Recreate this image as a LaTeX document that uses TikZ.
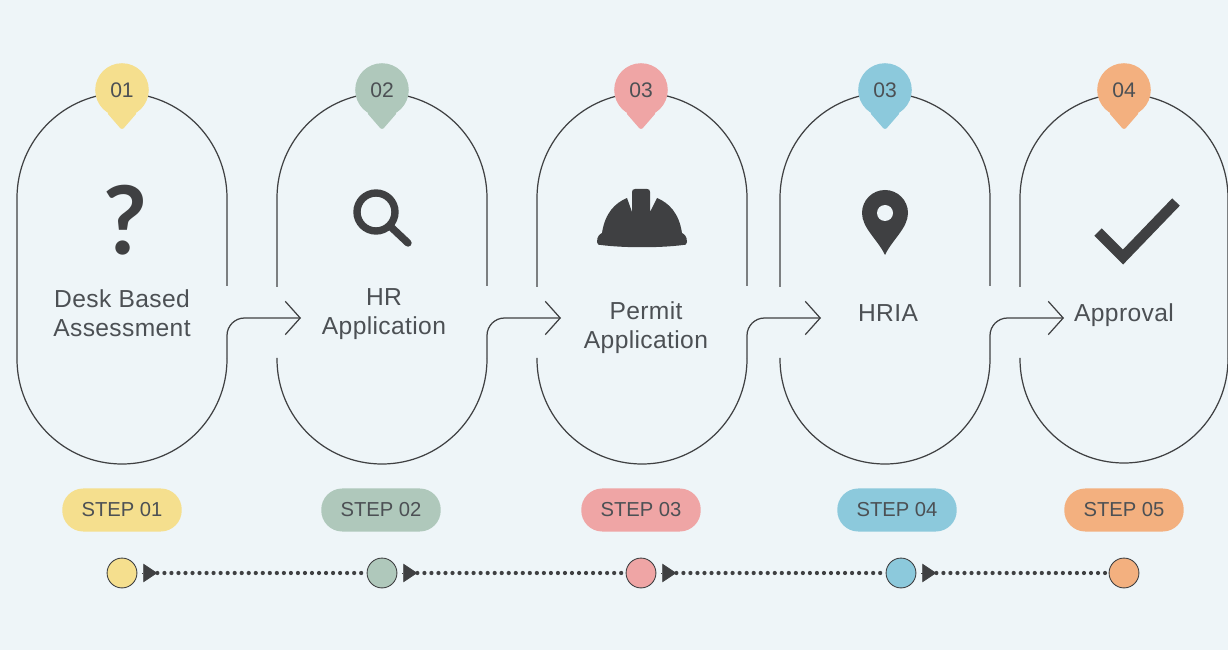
\documentclass[tikz,border=0pt]{standalone}
\usepackage{fontspec}
\setmainfont{Liberation Sans}
\newfontfamily\askfont{Lato}
\usetikzlibrary{calc}
\usetikzlibrary{arrows.meta}
\definecolor{bgpage}{HTML}{EEF5F8}
\definecolor{ink}{HTML}{3F4042}
\definecolor{inktext}{HTML}{4C5054}
\definecolor{stepyellow}{HTML}{F5DF8E}
\definecolor{stepgreen}{HTML}{AFC8BB}
\definecolor{stepred}{HTML}{EFA5A5}
\definecolor{stepblue}{HTML}{8CC9DC}
\definecolor{steporange}{HTML}{F3B07F}
\tikzset{
  outline/.style={ink,line width=0.7pt},
  link/.style={ink,line width=0.7pt,rounded corners=10pt,-{Straight Barb[length=8.5pt,width=19pt]}},
  pin/.style={circle,minimum size=30.5pt,inner sep=0pt,font=\fontsize{12}{15}\selectfont,text=inktext},
  pintip/.style={rounded corners=1.5pt},
  label/.style={align=center,font=\fontsize{14}{16.5}\selectfont\addfontfeature{LetterSpace=1.5},text=inktext},
  badge/.style={rounded corners=12pt,minimum width=68pt,minimum height=24.5pt,inner sep=0pt,font=\fontsize{11.5}{15}\selectfont,text=inktext},
  dot/.style={circle,draw=ink,line width=0.5pt,minimum size=17pt,inner sep=0pt},
  dotline/.style={ink,line width=2.4pt,line cap=round,dash pattern=on 0pt off 4pt},
  head/.style={ink,-{Triangle[length=8pt,width=10.5pt]}},
}

\begin{document}
\begin{tikzpicture} [x=0.02cm,y=0.02cm]

\useasboundingbox (0,0) rectangle (1228,650);
\fill[bgpage] (0,0) rectangle (1228,650);

% capsules
\draw[outline] (227,364) -- (227,452) arc(0:180:105) -- (17,291) arc(180:360:105);
\draw[outline] (487,364) -- (487,452) arc(0:180:105) -- (277,363);
\draw[outline] (277,292) -- (277,291) arc(180:360:105);
\draw[outline] (747,364) -- (747,452) arc(0:180:105) -- (537,363);
\draw[outline] (537,292) -- (537,291) arc(180:360:105);
\draw[outline] (990,364) -- (990,452) arc(0:180:105) -- (780,363);
\draw[outline] (780,292) -- (780,291) arc(180:360:105);
\draw[outline] (1228,291) -- (1228,452) arc(0:180:104) -- (1020,363);
\draw[outline] (1020,292) -- (1020,291) arc(180:360:104);

% links
\coordinate (s1) at (227,291);
\coordinate (k1) at (227,332);
\coordinate (e1) at (301,332);
\coordinate (s2) at (487,291);
\coordinate (k2) at (487,332);
\coordinate (e2) at (561,332);
\coordinate (s3) at (747,291);
\coordinate (k3) at (747,332);
\coordinate (e3) at (821,332);
\coordinate (s4) at (990,291);
\coordinate (k4) at (990,332);
\coordinate (e4) at (1064,332);
\draw[link] (s1)--(k1)--(e1);
\draw[link] (s2)--(k2)--(e2);
\draw[link] (s3)--(k3)--(e3);
\draw[link] (s4)--(k4)--(e4);

% pins
\node[pin,fill=stepyellow] (pin1) at (122,560) {01};
\node[pin,fill=stepgreen] (pin2) at (382,560) {02};
\node[pin,fill=stepred] (pin3) at (641,560) {03};
\node[pin,fill=stepblue] (pin4) at (885,560) {03};
\node[pin,fill=steporange] (pin5) at (1124,560) {04};
\fill[stepyellow,pintip] (pin1.-55) -- ($(pin1.south)+(0,-13)$) -- (pin1.-125) -- cycle;
\fill[stepgreen,pintip] (pin2.-55) -- ($(pin2.south)+(0,-13)$) -- (pin2.-125) -- cycle;
\fill[stepred,pintip] (pin3.-55) -- ($(pin3.south)+(0,-13)$) -- (pin3.-125) -- cycle;
\fill[stepblue,pintip] (pin4.-55) -- ($(pin4.south)+(0,-13)$) -- (pin4.-125) -- cycle;
\fill[steporange,pintip] (pin5.-55) -- ($(pin5.south)+(0,-13)$) -- (pin5.-125) -- cycle;

% icons
\node[ink,font=\fontsize{54}{54}\selectfont\askfont\bfseries] (ask) at (125,430) {?};
\draw[ink,line width=4.2pt] (376,438) circle(19);
\draw[ink,line width=4.2pt,line cap=round] (391,423) -- (408,407);
\fill[ink] (597,408) .. controls (597,414) and (600,416) .. (602,417)
  .. controls (605,437) and (615,447) .. (627,452) -- (632,438) -- (632,458)
  .. controls (632,460) and (633,461) .. (635,461) -- (647,461)
  .. controls (649,461) and (650,460) .. (650,458) -- (650,438) -- (657,452)
  .. controls (669,447) and (679,437) .. (682,417)
  .. controls (684,416) and (687,414) .. (687,408)
  .. controls (687,405) and (685,405) .. (683,405)
  .. controls (660,402) and (624,402) .. (601,405)
  .. controls (599,405) and (597,405) .. (597,408) -- cycle;
\fill[ink] (885,395) .. controls (878,410) and (862,422) .. (862,437)
  arc(180:0:23) .. controls (908,422) and (892,410) .. (885,395) -- cycle;
\fill[bgpage] (885,437) circle(8);
\draw[ink,line width=6pt] (1098,418) -- (1123,393) -- (1176,448);

% labels
\node[label] (txt1) at (122,337) {Desk Based\\Assessment};
\node[label] (txt2) at (384,336) {HR\\Application};
\node[label] (txt3) at (646,322) {Permit\\Application};
\node[label] (txt4) at (888,337) {HRIA};
\node[label] (txt5) at (1124,335) {Approval};

% badges
\node[badge,fill=stepyellow] (bdg1) at (122,140) {STEP 01};
\node[badge,fill=stepgreen] (bdg2) at (381,140) {STEP 02};
\node[badge,fill=stepred] (bdg3) at (641,140) {STEP 03};
\node[badge,fill=stepblue] (bdg4) at (897,140) {STEP 04};
\node[badge,fill=steporange] (bdg5) at (1124,140) {STEP 05};

% timeline
\node[dot,fill=stepyellow] (dot1) at (122,77) {};
\node[dot,fill=stepgreen] (dot2) at (382,77) {};
\node[dot,fill=stepred] (dot3) at (641,77) {};
\node[dot,fill=stepblue] (dot4) at (901,77) {};
\node[dot,fill=steporange] (dot5) at (1124,77) {};
\coordinate (t1) at ($(dot1.east)+(20,0)$);
\coordinate (t2) at ($(dot2.east)+(20,0)$);
\coordinate (t3) at ($(dot3.east)+(20,0)$);
\coordinate (t4) at ($(dot4.east)+(20,0)$);
\draw[dotline] (t1) -- (dot2);
\draw[dotline] (t2) -- (dot3);
\draw[dotline] (t3) -- (dot4);
\draw[dotline] (t4) -- (dot5);
\draw[head] ($(dot1.east)+(5,0)$) -- (t1);
\draw[head] ($(dot2.east)+(5,0)$) -- (t2);
\draw[head] ($(dot3.east)+(5,0)$) -- (t3);
\draw[head] ($(dot4.east)+(5,0)$) -- (t4);

\end{tikzpicture}
\end{document}
